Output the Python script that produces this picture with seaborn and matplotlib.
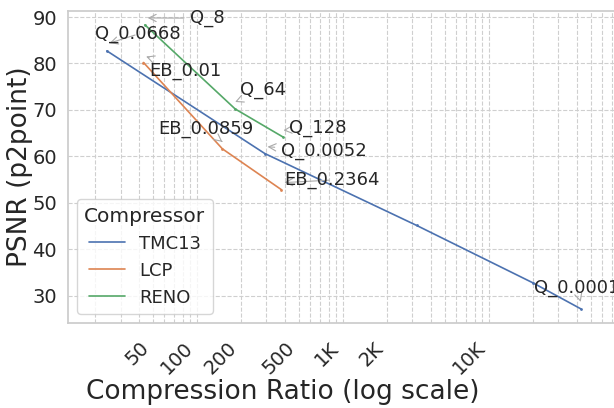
import numpy as np
import pandas as pd
import matplotlib
matplotlib.use("Agg")
import matplotlib.pyplot as plt
from matplotlib.ticker import LogLocator, NullFormatter, FixedLocator, FixedFormatter
import seaborn as sns

# ---- data ----
compressors = ["TMC13", "LCP", "RENO"]
tmc13_ratio = [24.2, 292, 3210, 20200, 42700]
tmc13_psnr = [82.7, 60.6, 45.1, 32.7, 27.15]
tmc13_labels = ["Q_0.0668", "Q_0.0052", None, None, "Q_0.0001"]
lcp_ratio = [43.1, 149.7, 380]
lcp_psnr = [80.2, 61.6, 52.8]
lcp_labels = ["EB_0.01", "EB_0.0859", "EB_0.2364"]
reno_ratio = [44.1, 183, 392]
reno_psnr = [88.3, 70.2, 64.1]
reno_labels = ["Q_8", "Q_64", "Q_128"]

tick_values = [50, 100, 200, 500, 1000, 2000, 10000]
tick_labels = ["50", "100", "200", "500", "1K", "2K", "10K"]

# text offsets (pixels) for annotations, relative to arrow target
label_offsets = {
    "Q_0.0668": (-12, 5), "Q_0.0052": (16, -9), "Q_0.0001": (-47, 9),
    "EB_0.01": (6, -20), "EB_0.0859": (-64, 8), "EB_0.2364": (3, -2),
    "Q_8": (45, -5), "Q_64": (5, 7), "Q_128": (6, -2),
}

df = pd.concat([
    pd.DataFrame({"Compressor": "TMC13", "ratio": tmc13_ratio, "psnr": tmc13_psnr, "label": tmc13_labels}),
    pd.DataFrame({"Compressor": "LCP", "ratio": lcp_ratio, "psnr": lcp_psnr, "label": lcp_labels}),
    pd.DataFrame({"Compressor": "RENO", "ratio": reno_ratio, "psnr": reno_psnr, "label": reno_labels}),
], ignore_index=True)

sns.set_theme(style="whitegrid")
plt.rcParams["font.family"] = ["DejaVu Sans"]

fig = plt.figure(figsize=(6.14, 4.08), dpi=100)
ax = fig.add_axes([68/614, 85/408, 551.5/614, 312.3/408])

sns.lineplot(data=df, x="ratio", y="psnr", hue="Compressor", hue_order=compressors,
             marker="o", markersize=2, markeredgewidth=0, linewidth=1.2,
             sort=False, estimator=None, ax=ax)

ax.set_xscale("log")
ax.set_xlim(13.1, 78700)
ax.xaxis.set_major_locator(FixedLocator(tick_values))
ax.xaxis.set_major_formatter(FixedFormatter(tick_labels))
ax.xaxis.set_minor_locator(LogLocator(base=10, subs=np.arange(1, 10), numticks=50))
ax.xaxis.set_minor_formatter(NullFormatter())
ax.grid(True, which="both", linestyle="--", linewidth=0.8, color="#cfcfcf")

for lab in ax.get_xticklabels():
    lab.set_rotation(45)
    lab.set_ha("right")
ax.tick_params(axis="x", labelsize=14, pad=5)
ax.tick_params(axis="y", labelsize=14, pad=2)

ax.set_xlabel("Compression Ratio (log scale)", fontsize=19)
ax.set_ylabel("PSNR (p2point)", fontsize=19)
ax.xaxis.set_label_coords((283 - 68) / 551.5, -0.178)
ax.yaxis.set_label_coords(-0.064, 0.5)

for _, row in df.dropna(subset=["label"]).iterrows():
    dx, dy = label_offsets[row["label"]]
    ax.annotate(row["label"], xy=(row["ratio"], row["psnr"] + 1.5), xycoords="data",
                xytext=(dx, dy), textcoords="offset pixels", fontsize=13,
                ha="left", va="baseline", color="#262626",
                arrowprops=dict(arrowstyle="->", color="#aaaaaa", lw=0.8))

leg = ax.legend(title="Compressor", loc="lower left", fontsize=13, title_fontsize=14.5)
for ln in leg.get_lines():
    ln.set_marker("")

fig.savefig("out.png", dpi=100)
